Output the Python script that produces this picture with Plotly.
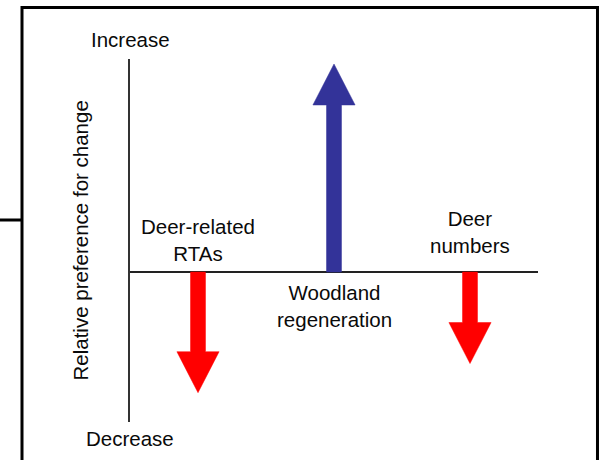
import plotly.graph_objects as go

# Data
categories = ["Deer-related<br>RTAs", "Woodland<br>regeneration", "Deer<br>numbers"]
positions = [1, 2, 3]
preference = [-0.58, 1.0, -0.44]
colors = ["#FF0000", "#333399", "#FF0000"]
label_y = [0.154, -0.161, 0.19]
axis_top_label = "Increase"
axis_bottom_label = "Decrease"
y_title = "Relative preference for change"

# geometry (data units)
shaft_half = 0.055
head_half = 0.155
head_len = 0.197

FONT = "Liberation Sans, Arial, sans-serif"
TXT = "#0a0a0a"
FS = 20.5

fig = go.Figure()
for x, v, c in zip(positions, preference, colors):
    s = 1 if v > 0 else -1
    base = v - s * head_len
    xs = [x - shaft_half, x + shaft_half, x + shaft_half, x + head_half, x, x - head_half, x - shaft_half, x - shaft_half]
    ys = [0, 0, base, base, v, base, base, 0]
    fig.add_trace(go.Scatter(x=xs, y=ys, mode="lines", fill="toself", fillcolor=c,
                             line=dict(color=c, width=0.5), hoverinfo="skip", showlegend=False))

for x, t, ly in zip(positions, categories, label_y):
    fig.add_annotation(x=x, y=ly, text=t, showarrow=False, xref="x", yref="y",
                       xanchor="center", yanchor="middle",
                       font=dict(family=FONT, size=FS, color=TXT), align="center")

fig.add_annotation(x=0, y=1, xref="paper", yref="paper", text=axis_top_label, showarrow=False,
                   xanchor="center", yanchor="middle", yshift=20,
                   font=dict(family=FONT, size=FS, color=TXT))
fig.add_annotation(x=0, y=0, xref="paper", yref="paper", text=axis_bottom_label, showarrow=False,
                   xanchor="center", yanchor="middle", yshift=-16,
                   font=dict(family=FONT, size=FS, color=TXT))
fig.add_annotation(x=-0.1225, y=0.5, xref="paper", yref="paper", text=y_title,
                   showarrow=False, textangle=-90, xanchor="center", yanchor="middle",
                   font=dict(family=FONT, size=FS, color=TXT))

# outer frame and stub
fig.add_shape(type="rect", xref="paper", yref="paper", x0=-0.2647, x1=1.1458, y0=-0.3, y1=1.1419,
              line=dict(color="black", width=3), fillcolor="rgba(0,0,0,0)", layer="below")
fig.add_shape(type="line", xref="paper", yref="paper", x0=-0.4, x1=-0.2647, y0=0.5565, y1=0.5565,
              line=dict(color="black", width=3))

fig.update_layout(
    width=599, height=460,
    margin=dict(l=130, r=61, t=59, b=38),
    paper_bgcolor="white", plot_bgcolor="white",
    xaxis=dict(range=[0.5, 3.5], showgrid=False, zeroline=False, showticklabels=False,
               showline=False, fixedrange=True),
    yaxis=dict(range=[-0.721, 1.024], showgrid=False, zeroline=True, zerolinecolor="#222222",
               zerolinewidth=2, showticklabels=False, showline=True, linecolor="#333333",
               linewidth=2, fixedrange=True),
)

fig.write_html("out.html", config={"displayModeBar": False},
               post_script="document.body.style.margin='0px';document.body.style.overflow='hidden';")
